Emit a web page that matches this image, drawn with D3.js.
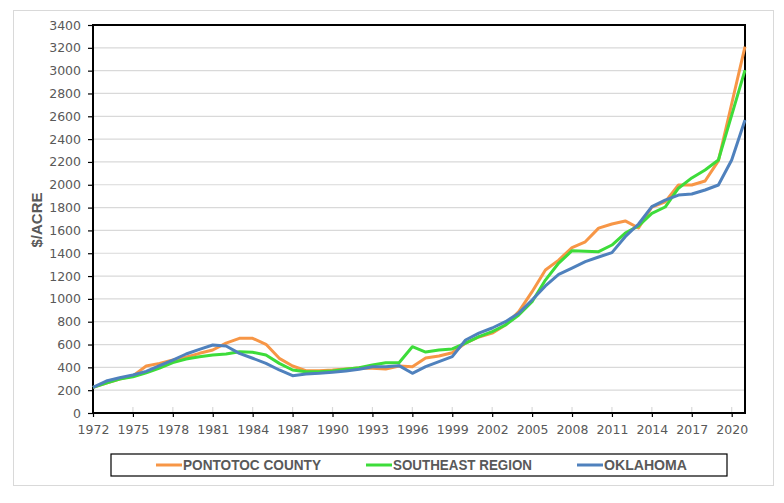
<!DOCTYPE html>
<html>
<head>
<meta charset="utf-8">
<script src="https://cdnjs.cloudflare.com/ajax/libs/d3/7.8.5/d3.min.js"></script>
<style>
  body { margin: 0; background: #fff; }
  svg { display: block; }
</style>
</head>
<body>
<div class="chart"></div>
<script>
// values, $/acre
const years = d3.range(1972, 2022);

const pontotoc = [
  225, 262, 297, 325, 412, 435, 464, 488, 523, 552,
  613, 654, 654, 602, 479, 412, 371, 371, 377, 386,
  394, 392, 386, 412, 406, 482, 500, 528, 613, 666,
  700, 771, 888, 1063, 1253, 1340, 1450, 1500, 1620, 1656,
  1683, 1621, 1805, 1850, 1998, 1998, 2033, 2210, 2710, 3210
];

const southeast = [
  225, 262, 297, 318, 353, 394, 441, 473, 493, 508,
  517, 537, 532, 508, 435, 377, 362, 362, 368, 383,
  397, 421, 441, 441, 581, 534, 552, 561, 613, 669,
  713, 771, 859, 975, 1165, 1314, 1422, 1418, 1414, 1472,
  1577, 1640, 1750, 1805, 1970, 2060, 2130, 2217, 2610, 3005
];

const oklahoma = [
  225, 280, 309, 333, 365, 415, 464, 517, 558, 596,
  587, 523, 480, 435, 377, 327, 342, 348, 357, 368,
  383, 406, 406, 415, 348, 406, 450, 494, 640, 700,
  745, 800, 875, 990, 1113, 1215, 1270, 1326, 1367, 1405,
  1545, 1656, 1808, 1866, 1910, 1919, 1954, 1998, 2217, 2567
];

const seriesNames = ["PONTOTOC COUNTY", "SOUTHEAST REGION", "OKLAHOMA"];
const seriesColors = ["#f79646", "#3ddc3a", "#4f81bd"];
const yTicks = d3.range(0, 3401, 200);
const xTickYears = years.filter((d, i) => i % 3 === 0);

const width = 784;
const height = 503;
const margin = { top: 25, right: 39, bottom: 90, left: 93 };

const svg = d3.select(".chart").append("svg")
  .attr("width", width)
  .attr("height", height);

// outer chart frame
svg.append("rect")
  .attr("x", 13.5).attr("y", 10.5)
  .attr("width", 760).attr("height", 475)
  .attr("fill", "#fff")
  .attr("stroke", "#d9d9d9");

const x = d3.scalePoint()
  .domain(years)
  .range([margin.left, width - margin.right]);

const y = d3.scaleLinear()
  .domain([0, 3400])
  .range([height - margin.bottom, margin.top]);

const plotW = width - margin.right - margin.left;

// gridlines
svg.append("g")
  .selectAll("line")
  .data(yTicks)
  .join("line")
  .attr("x1", margin.left).attr("x2", width - margin.right)
  .attr("y1", d => y(d)).attr("y2", d => y(d))
  .attr("stroke", "#d9d9d9")
  .attr("stroke-width", 1.2);

// light inner ticks on the category axis
svg.append("g")
  .selectAll("line")
  .data(xTickYears)
  .join("line")
  .attr("x1", d => x(d)).attr("x2", d => x(d))
  .attr("y1", y(0) - 6).attr("y2", y(0))
  .attr("stroke", "#d9d9d9")
  .attr("stroke-width", 1.2);

// y axis
const yAxis = svg.append("g")
  .attr("transform", `translate(${margin.left},0)`)
  .call(d3.axisLeft(y).tickValues(yTicks).tickFormat(d3.format("d"))
    .tickSize(5).tickPadding(7).tickSizeOuter(0));

// x axis
const xAxis = svg.append("g")
  .attr("transform", `translate(0,${y(0)})`)
  .call(d3.axisBottom(x).tickValues(xTickYears).tickSize(4).tickPadding(8).tickSizeOuter(0));

[yAxis, xAxis].forEach(a => {
  a.select(".domain").remove();
  a.selectAll(".tick line").attr("stroke", "#000").attr("stroke-width", 1.2);
  a.selectAll("text")
    .attr("fill", "#595959")
    .style("font-family", "DejaVu Sans, sans-serif")
    .style("font-size", "12.5px");
});

// black plot frame
svg.append("rect")
  .attr("x", margin.left).attr("y", margin.top)
  .attr("width", plotW).attr("height", y(0) - margin.top)
  .attr("fill", "none")
  .attr("stroke", "#000")
  .attr("stroke-width", 2);

// series lines
const allSeries = [pontotoc, southeast, oklahoma];
const line = d3.line()
  .x((d, i) => x(years[i]))
  .y(d => y(d));

svg.append("g")
  .selectAll("path")
  .data(allSeries)
  .join("path")
  .attr("d", d => line(d))
  .attr("fill", "none")
  .attr("stroke", (d, i) => seriesColors[i])
  .attr("stroke-width", 3)
  .attr("stroke-linejoin", "round");

// y title
svg.append("text")
  .attr("transform", "translate(42,220) rotate(-90)")
  .attr("text-anchor", "middle")
  .attr("fill", "#595959")
  .style("font-family", "Liberation Sans, Arial, sans-serif")
  .style("font-weight", "bold")
  .style("font-size", "15px")
  .text("$/ACRE");

// legend
const legend = svg.append("g");
legend.append("rect")
  .attr("x", 111).attr("y", 454)
  .attr("width", 616).attr("height", 22)
  .attr("fill", "#fff")
  .attr("stroke", "#000")
  .attr("stroke-width", 1.2);

const legendX = [156, 366, 577];
const legendTextW = [138, 139, 83];

const items = legend.selectAll("g.item")
  .data(seriesNames)
  .join("g")
  .attr("class", "item")
  .attr("transform", (d, i) => `translate(${legendX[i]},465)`);

items.append("line")
  .attr("x1", 0).attr("x2", 26)
  .attr("stroke", (d, i) => seriesColors[i])
  .attr("stroke-width", 3);

items.append("text")
  .attr("x", 27)
  .attr("dy", "0.36em")
  .attr("fill", "#595959")
  .attr("textLength", (d, i) => legendTextW[i])
  .attr("lengthAdjust", "spacingAndGlyphs")
  .style("font-family", "Liberation Sans Narrow, Liberation Sans, Arial, sans-serif")
  .style("font-weight", "bold")
  .style("font-size", "14px")
  .text(d => d);
</script>
</body>
</html>
